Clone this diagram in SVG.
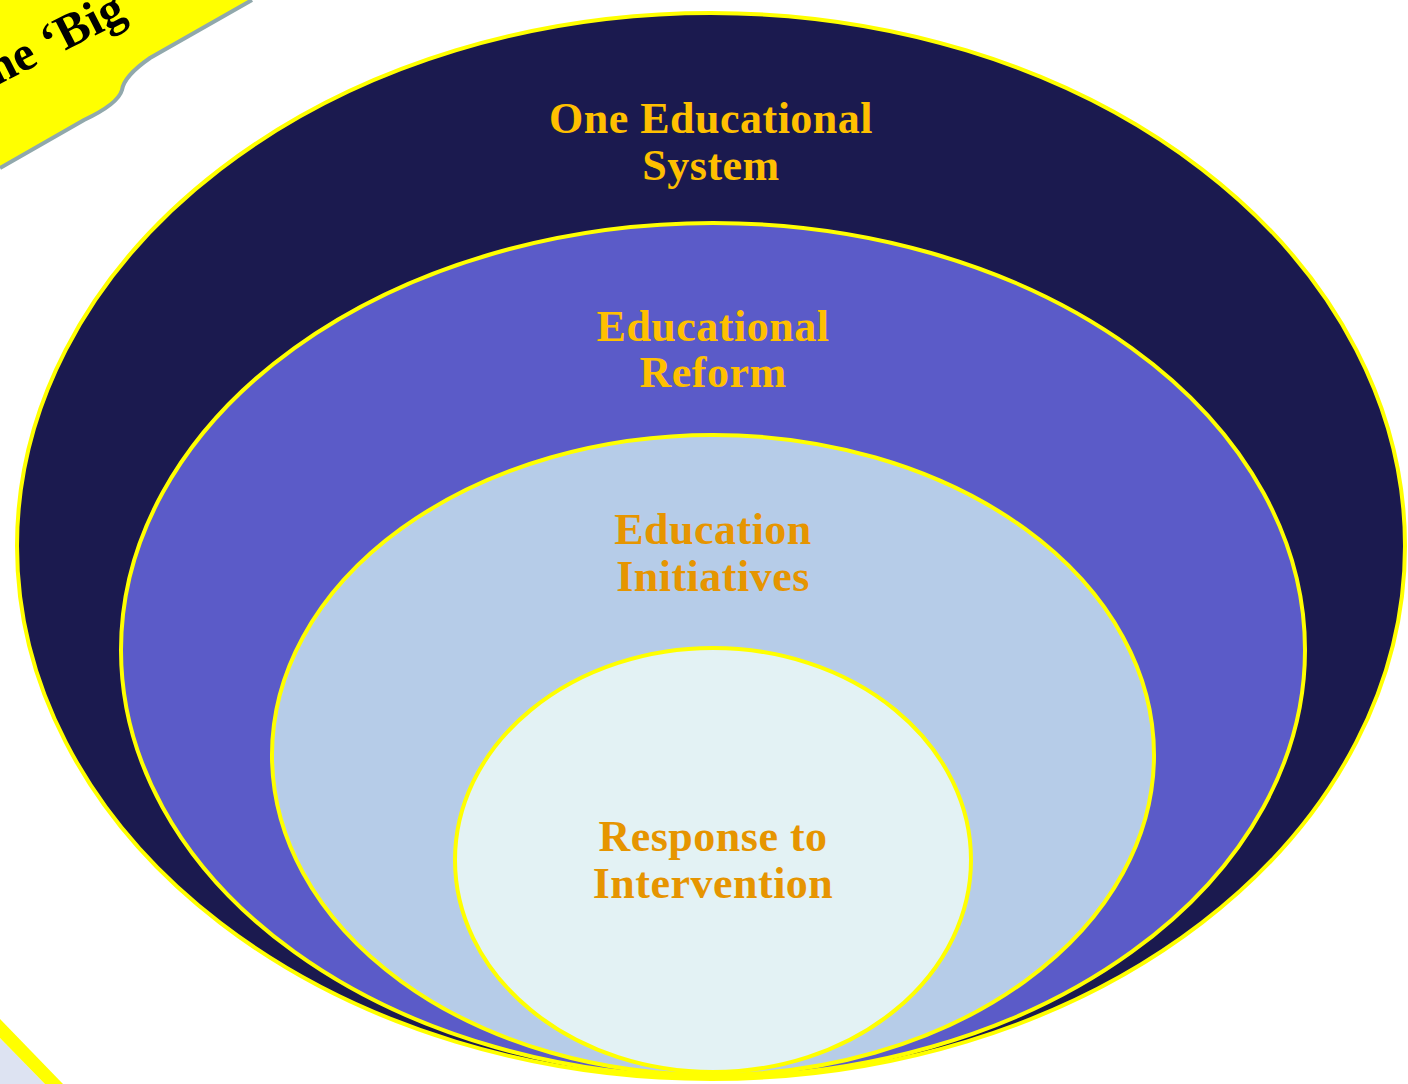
<svg xmlns="http://www.w3.org/2000/svg" width="1408" height="1084" viewBox="0 0 1408 1084">
<style>
.ring{stroke:#FFFF00;stroke-width:4}
.lbl{font-family:"Liberation Serif","Times New Roman",serif;font-weight:bold;font-size:44px;text-anchor:middle}
.gold{fill:#FFC000}
.amber{fill:#E69500}
</style>
<rect width="1408" height="1084" fill="#FFFFFF"/>
<g id="callout">
<path d="M0 0 L252 0 L150 58 Q124 76 122 90 Q118 104 84 120 L0 168 Z" fill="#FFFF00"/>
<path d="M252 0 L150 58 Q124 76 122 90 Q118 104 84 120 L0 168" fill="none" stroke="#90A8AC" stroke-width="4"/>
<text x="0" y="0" transform="translate(-4,86) rotate(-27)" font-family="Liberation Serif, Times New Roman, serif" font-weight="bold" font-size="49" fill="#000">he ‘Big</text>
</g>
<g id="corner">
<polygon points="0,1038 45,1084 0,1084" fill="#DDE3F2"/>
<polygon points="0,1019 63,1084 45,1084 0,1038" fill="#FFFF00"/>
</g>
<g id="connectors"></g>
<g id="one-educational-system">
<ellipse class="ring" cx="711" cy="546" rx="694" ry="533" fill="#1B1A4F"/>
<text class="lbl gold" x="711" y="133" letter-spacing="0.5">One Educational</text>
<text class="lbl gold" x="711" y="180" letter-spacing="0.5">System</text>
</g>
<g id="educational-reform">
<ellipse class="ring" cx="713" cy="650" rx="592" ry="427" fill="#5B5BC8"/>
<text class="lbl gold" x="713" y="341" letter-spacing="0.5">Educational</text>
<text class="lbl gold" x="713" y="387" letter-spacing="0.5">Reform</text>
</g>
<g id="education-initiatives">
<ellipse class="ring" cx="713" cy="755" rx="441" ry="320" fill="#B6CCE8"/>
<text class="lbl amber" x="713" y="544" letter-spacing="0.5">Education</text>
<text class="lbl amber" x="713" y="591" letter-spacing="0.5">Initiatives</text>
</g>
<g id="response-to-intervention">
<ellipse class="ring" cx="713" cy="860" rx="258" ry="212" fill="#E3F2F4"/>
<text class="lbl amber" x="713" y="851" letter-spacing="0.5">Response to</text>
<text class="lbl amber" x="713" y="898" letter-spacing="0.5">Intervention</text>
</g>
</svg>
